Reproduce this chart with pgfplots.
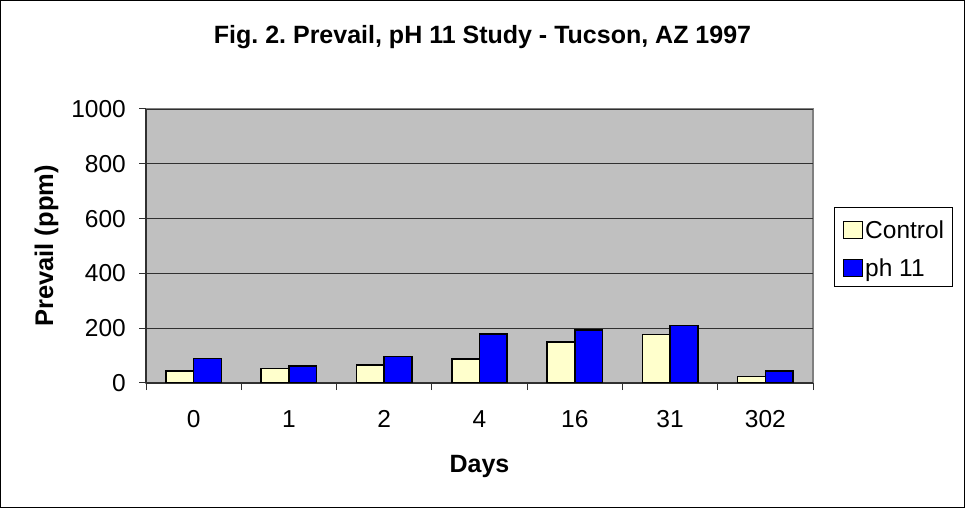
\documentclass[border=0pt]{standalone}
\usepackage{pgfplots}
\pgfplotsset{compat=1.18}
\usepackage{fontspec}
\setmainfont{Liberation Sans}
\frenchspacing
\definecolor{plotgray}{HTML}{C0C0C0}
\definecolor{framegray}{HTML}{808080}
\definecolor{axisdark}{HTML}{303030}
\definecolor{ctrl}{HTML}{FFFFCC}
\definecolor{phblue}{HTML}{0000FF}
\begin{document}
\begin{tikzpicture}
\useasboundingbox (0,0) rectangle (965bp,508bp);
\draw[black, line width=1.2bp] (0.6bp,0.6bp) rectangle (964.4bp,507.4bp);
\begin{axis}[
  at={(146bp,125bp)}, anchor=south west,
  scale only axis, width=667bp, height=274bp,
  ybar=0pt, bar width=27.7bp,
  xmin=-0.5, xmax=6.5, ymin=0, ymax=1000,
  enlargelimits=false,
  axis lines=left, axis line style={-, draw=axisdark, line width=1.2bp},
  axis background/.style={fill=plotgray, draw=framegray, line width=1.2bp},
  xtick={0,1,2,3,4,5,6},
  xticklabels={0,1,2,4,16,31,302},
  minor xtick={-0.5,0.5,1.5,2.5,3.5,4.5,5.5,6.5},
  major x tick style={draw=none},
  ytick={0,200,400,600,800,1000},
  tick align=outside,
  major tick length=7bp, minor tick length=7bp,
  tick style={draw=axisdark, line width=1bp},
  ymajorgrids, grid style={draw=axisdark, line width=0.9bp},
  ticklabel style={font=\fontsize{24.5bp}{29bp}\selectfont, inner sep=0pt},
  yticklabel style={anchor=east, xshift=-13bp},
  xticklabel style={anchor=north, yshift=-20bp},
  /pgf/number format/1000 sep={},
  /pgf/number format/assume math mode=true,
  title={Fig. 2. Prevail, pH 11 Study - Tucson, AZ 1997},
  title style={at={(axis description cs:0.5,1)}, anchor=base, yshift=60bp, xshift=3bp, inner sep=0pt, font=\bfseries\fontsize{25bp}{30bp}\selectfont},
  xlabel={Days},
  xlabel style={at={(axis description cs:0.5,0)}, anchor=north, yshift=-72bp, inner sep=0pt, font=\bfseries\fontsize{25bp}{30bp}\selectfont},
  ylabel={Prevail (ppm)},
  every axis y label/.style={at={(axis description cs:-0.1394,0.5)}, rotate=90, anchor=base, inner sep=0pt, font=\bfseries\fontsize{25.5bp}{30bp}\selectfont},
  legend style={at={(axis description cs:1.0315,0.6423)}, anchor=north west,
    draw=black, line width=1bp, fill=white, inner xsep=8bp, inner ysep=9bp,
    row sep=14.7bp, column sep=2.5bp,
    nodes={inner sep=0pt, text height=22bp, text depth=1bp, font=\fontsize{24.5bp}{29bp}\selectfont}},
  legend cell align=left,
  legend image code/.code={\draw[#1, line width=1.2bp] (0bp,-10.5bp) rectangle (19bp,6.5bp);},
]
\addplot[draw=black, line width=1.5bp, fill=ctrl] coordinates {(0,44) (1,53) (2,66) (3,87) (4,149) (5,177) (6,24)};
\addplot[draw=black, line width=1.5bp, fill=phblue] coordinates {(0,89) (1,62) (2,97) (3,179) (4,193) (5,210) (6,43)};
\legend{Control, ph 11}
\end{axis}
\end{tikzpicture}
\end{document}
